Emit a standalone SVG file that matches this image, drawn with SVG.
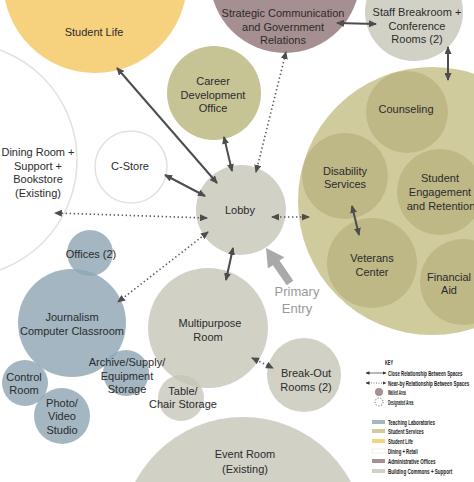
<svg xmlns="http://www.w3.org/2000/svg" width="474" height="482" viewBox="0 0 474 482">
<defs>
<marker id="ah" viewBox="0 0 8 7" refX="7" refY="3.5" markerWidth="8" markerHeight="7" markerUnits="userSpaceOnUse" orient="auto-start-reverse"><path d="M0,0 L8,3.5 L0,7 z" fill="#4d4d4d"/></marker>
<marker id="ahs" viewBox="0 0 8 7" refX="7" refY="3.5" markerWidth="4" markerHeight="3.5" markerUnits="userSpaceOnUse" orient="auto-start-reverse"><path d="M0,0 L8,3.5 L0,7 z" fill="#333"/></marker>
<style>
text{font-family:"Liberation Sans",Arial,sans-serif;font-size:11px;fill:#2b2b2b;text-anchor:middle}
.life{fill:#f6d27f}
.admin{fill:#a68f90}
.common{fill:#d2d1c6}
.svc{fill:#cfcb9d}
.svc2{fill:#bdb886}
.career{fill:#c6c395}
.teach{fill:#8fa6b4;fill-opacity:0.82}
.commo{fill:#c4c3b5;fill-opacity:0.75}
.dine{fill:#fff;stroke:#e3e1da;stroke-width:1.5}
.solid{stroke:#4d4d4d;stroke-width:2;fill:none;marker-start:url(#ah);marker-end:url(#ah)}
.dot{stroke:#5a5a5a;stroke-width:1.6;stroke-dasharray:1.4 2.6;fill:none;marker-start:url(#ah);marker-end:url(#ah)}
.key{font-size:7px;font-weight:bold;fill:#222;text-anchor:start}
</style>
</defs>

<g id="dining"><circle class="dine" cx="-40" cy="160" r="117"/>
<text x="38" y="156">Dining Room +</text><text x="38" y="170">Support +</text><text x="38" y="183">Bookstore</text><text x="38" y="197">(Existing)</text></g>

<g id="student-life"><circle class="life" cx="95" cy="-19" r="92"/><text x="94" y="36">Student Life</text></g>

<g id="strategic"><circle class="admin" cx="285" cy="-22" r="75"/>
<text x="283" y="17">Strategic  Communication</text><text x="283" y="31">and Government</text><text x="283" y="44">Relations</text></g>

<g id="staff"><circle class="common" cx="414" cy="12" r="49"/>
<text x="417" y="16">Staff Breakroom +</text><text x="417" y="30">Conference</text><text x="417" y="43">Rooms (2)</text></g>

<g id="student-services"><circle class="svc" cx="432" cy="201" r="134"/></g>
<g id="counseling"><circle class="svc2" cx="407" cy="112" r="41"/><text x="406" y="113">Counseling</text></g>
<g id="disability"><circle class="svc2" cx="345" cy="176" r="43"/><text x="345" y="175">Disability</text><text x="345" y="188">Services</text></g>
<g id="engagement"><circle class="svc2" cx="440" cy="192" r="43"/><text x="440" y="182">Student</text><text x="440" y="196">Engagement</text><text x="441" y="210">and Retention</text></g>
<g id="veterans"><circle class="svc2" cx="372" cy="263" r="45"/><text x="372" y="262">Veterans</text><text x="372" y="276">Center</text></g>
<g id="financial"><circle class="svc2" cx="463" cy="282" r="43"/><text x="449" y="281">Financial</text><text x="449" y="294">Aid</text></g>

<g id="career"><circle class="career" cx="214" cy="93" r="47"/>
<text x="213" y="85">Career</text><text x="213" y="99">Development</text><text x="213" y="112">Office</text></g>

<g id="cstore"><circle class="dine" cx="131" cy="167" r="36"/><text x="130" y="170">C-Store</text></g>

<g id="lobby"><circle class="common" cx="241" cy="210" r="45"/><text x="240" y="214">Lobby</text></g>

<g id="multipurpose"><circle class="common" cx="208" cy="328" r="60"/><text x="210" y="327">Multipurpose</text><text x="208" y="341">Room</text></g>

<g id="table-chair"><circle class="commo" cx="181" cy="398" r="23"/><text x="183" y="395">Table/</text><text x="183" y="408">Chair Storage</text></g>

<g id="breakout"><circle class="common" cx="304" cy="375" r="37"/><text x="306" y="377">Break-Out</text><text x="306" y="391">Rooms (2)</text></g>

<g id="event"><circle class="common" cx="243" cy="539" r="122"/><text x="245" y="458">Event Room</text><text x="245" y="473">(Existing)</text></g>

<g id="journalism"><circle class="teach" cx="72" cy="323" r="54"/><text x="72" y="321">Journalism</text><text x="72" y="335">Computer Classroom</text></g>
<g id="offices"><circle class="teach" cx="90" cy="253" r="23"/><text x="91" y="258">Offices (2)</text></g>
<g id="archive"><circle class="teach" cx="126" cy="373" r="23"/><text x="127" y="366">Archive/Supply/</text><text x="127" y="380">Equipment</text><text x="127" y="393">Storage</text></g>
<g id="control"><circle class="teach" cx="25" cy="383" r="23"/><text x="24" y="381">Control</text><text x="24" y="394">Room</text></g>
<g id="photo"><circle class="teach" cx="62" cy="416" r="28"/><text x="62" y="407">Photo/</text><text x="62" y="420">Video</text><text x="62" y="434">Studio</text></g>

<g id="connectors">
<line class="solid" x1="217" y1="183" x2="117" y2="68"/>
<line class="solid" x1="232" y1="171" x2="224" y2="137"/>
<line class="solid" x1="205" y1="196" x2="165" y2="175"/>
<line class="dot" x1="207" y1="218" x2="55" y2="213"/>
<line class="dot" x1="208" y1="232" x2="118" y2="302"/>
<line class="solid" x1="233" y1="248" x2="226" y2="280"/>
<line class="dot" x1="272" y1="217" x2="309" y2="217"/>
<line class="dot" x1="256" y1="172" x2="286" y2="52"/>
<line class="solid" x1="337" y1="23" x2="376" y2="24"/>
<line class="solid" x1="448" y1="47" x2="448" y2="80"/>
<line class="solid" x1="352" y1="206" x2="359" y2="235"/>
<line class="dot" x1="252" y1="358" x2="273" y2="368"/>
</g>

<g id="primary-entry">
<polygon points="266,248 284.4,257.2 279.5,260.6 293.3,280.7 286.7,285.3 272.9,265.2 267.9,268.5" fill="#a9a9a9"/>
<text x="297" y="296" style="font-size:13px;fill:#999">Primary</text>
<text x="297" y="313" style="font-size:13px;fill:#999">Entry</text>
</g>

<g id="key">
<text class="key" transform="translate(385,365) scale(0.56,1)">KEY</text>
<line x1="366" y1="373" x2="386" y2="373" stroke="#333" stroke-width="0.7" marker-start="url(#ahs)" marker-end="url(#ahs)"/>
<text class="key" transform="translate(388,375.5) scale(0.62,1)">Close Relationship Between Spaces</text>
<line x1="366" y1="383" x2="386" y2="383" stroke="#333" stroke-width="0.7" stroke-dasharray="1 1.5" marker-start="url(#ahs)" marker-end="url(#ahs)"/>
<text class="key" transform="translate(388,385.5) scale(0.64,1)">Near-by Relationship Between Spaces</text>
<circle cx="379" cy="392" r="4" fill="#a68f90"/>
<text class="key" transform="translate(388,395) scale(0.45,1)">Walled Area</text>
<circle cx="379" cy="402" r="4" fill="none" stroke="#444" stroke-width="0.8" stroke-dasharray="1.2 1.6"/>
<text class="key" transform="translate(388,405) scale(0.46,1)">Designated Area</text>
<rect x="372" y="420" width="13" height="4" fill="#a3b6c2"/>
<text class="key" transform="translate(388,424.5) scale(0.63,1)">Teaching Laboratories</text>
<rect x="372" y="429" width="13" height="4" fill="#cfcb9d"/>
<text class="key" transform="translate(388,433.5) scale(0.63,1)">Student Services</text>
<rect x="372" y="439" width="13" height="4" fill="#f6d27f"/>
<text class="key" transform="translate(388,443.5) scale(0.62,1)">Student Life</text>
<rect x="372" y="449" width="13" height="4" fill="#fff" stroke="#e0ded8" stroke-width="0.5"/>
<text class="key" transform="translate(388,453.5) scale(0.61,1)">Dining + Retail</text>
<rect x="372" y="459" width="13" height="4" fill="#a68f90"/>
<text class="key" transform="translate(388,463.5) scale(0.64,1)">Administrative Offices</text>
<rect x="372" y="469" width="13" height="4" fill="#d2d1c6"/>
<text class="key" transform="translate(388,473.5) scale(0.65,1)">Building Commons + Support</text>
</g>
</svg>
